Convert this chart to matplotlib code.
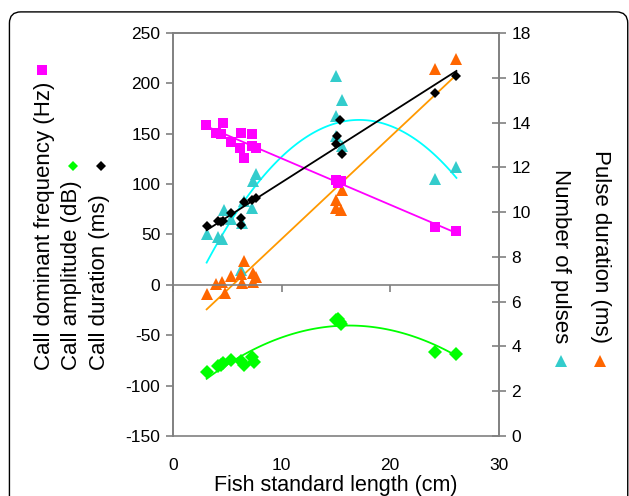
import numpy as np
import matplotlib
matplotlib.use("Agg")
import matplotlib.pyplot as plt
from matplotlib.patches import FancyBboxPatch
from matplotlib.lines import Line2D

plt.rcParams["font.family"] = ["Liberation Sans", "DejaVu Sans"]
plt.rcParams["axes.unicode_minus"] = False

# call dominant frequency (Hz), left axis
freq_x = [3.0, 4.0, 4.4, 4.6, 5.3, 6.2, 6.3, 6.5, 7.3, 7.3, 7.6, 15.0, 15.2, 15.5, 24.1, 26.1]
freq_y = [159, 150.5, 150, 160.5, 142, 136, 150.5, 126, 149.5, 138, 135.5, 104, 101, 103, 57, 53]

# call duration (ms), left axis
dur_x = [3.1, 4.1, 4.4, 4.6, 5.3, 6.3, 6.3, 6.5, 7.3, 7.6, 15.0, 15.1, 15.4, 15.6, 24.1, 26.1]
dur_y = [58, 63, 62, 63, 71, 66, 59.5, 82, 84.5, 86, 140, 148, 164, 130, 190, 207]

# call amplitude (dB), left axis
amp_x = [3.1, 4.1, 4.4, 4.6, 5.3, 6.3, 6.5, 7.3, 7.5, 15.0, 15.2, 15.4, 15.5, 24.1, 26.1]
amp_y = [-86, -81, -79.5, -77.5, -74.5, -76, -79.5, -72, -77, -34.5, -34, -36.5, -38.5, -67, -68.5]

# number of pulses, right axis
npul_x = [3.1, 4.1, 4.5, 4.7, 5.3, 6.3, 6.4, 6.5, 7.3, 7.4, 7.6, 15.0, 15.0, 15.0, 15.6, 15.6, 24.1, 26.1]
npul_y = [9.0, 8.9, 8.8, 10.1, 9.7, 7.4, 9.5, 10.5, 10.2, 11.4, 11.7, 16.1, 14.3, 13.4, 15.0, 12.95, 11.5, 12.0]

# pulse duration (ms), right axis
pdur_x = [3.1, 4.0, 4.5, 4.8, 5.3, 6.3, 6.4, 6.5, 7.4, 7.4, 7.6, 15.0, 15.0, 15.5, 15.6, 24.1, 26.1]
pdur_y = [6.33, 6.78, 6.89, 6.4, 7.15, 7.24, 6.82, 7.8, 7.27, 6.89, 7.11, 10.54, 10.17, 10.09, 10.99, 16.38, 16.82]

XTICKS = [0, 10, 20, 30]
YTICKS_L = np.arange(-150, 251, 50)
YTICKS_R = np.arange(0, 19, 2)

GRAY = "#808080"
MAG = "#FF00FF"
GRN = "#00FF00"
CYAN_M = "#33CCCC"
CYAN_L = "#00FFFF"
ORG_M = "#FF6600"
ORG_L = "#FF9900"
LBL = 16

fig = plt.figure(figsize=(6.29, 4.96), dpi=100)
ax = fig.add_axes([0.275, 0.121, 0.518, 0.8125])
ax2 = ax.twinx()

# rounded frame around the figure
frame = FancyBboxPatch((0.015, -0.1), 0.983, 1.076,
                       boxstyle="round,pad=0,rounding_size=0.018",
                       mutation_aspect=629 / 496,
                       transform=fig.transFigure, fill=False, edgecolor="black",
                       linewidth=1.0, clip_on=False)
fig.patches.append(frame)


def trend(ax_, xs, ys, deg, color):
    c = np.polyfit(xs, ys, deg)
    xx = np.linspace(min(xs), max(xs), 100)
    ax_.plot(xx, np.polyval(c, xx), color=color, lw=1.3, zorder=2)


trend(ax, freq_x, freq_y, 1, MAG)
trend(ax, dur_x, dur_y, 1, "black")
trend(ax, amp_x, amp_y, 2, GRN)
trend(ax2, npul_x, npul_y, 2, CYAN_L)
trend(ax2, pdur_x, pdur_y, 1, ORG_L)

ax2.plot(npul_x, npul_y, "^", color=CYAN_M, ms=8, mew=0, zorder=3)
ax2.plot(pdur_x, pdur_y, "^", color=ORG_M, ms=8, mew=0, zorder=3)
ax.plot(freq_x, freq_y, "s", color=MAG, ms=7, mew=0, zorder=3)
ax.plot(dur_x, dur_y, "D", color="black", ms=5.5, mew=0, zorder=3)
ax.plot(amp_x, amp_y, "D", color=GRN, ms=7, mew=0, zorder=3)

ax.set_zorder(ax2.get_zorder() + 1)
ax.patch.set_visible(False)

ax.set_xlim(0, 30)
ax.set_ylim(-150, 250)
ax2.set_ylim(0, 18)
ax.set_yticks(YTICKS_L)
ax2.set_yticks(YTICKS_R)
ax.set_xticks(XTICKS)

for a in (ax, ax2):
    for s in a.spines.values():
        s.set_color(GRAY)
        s.set_linewidth(1.2)

# x axis line sits at zero, labels stay at the bottom
ax.spines["bottom"].set_position(("data", 0))
ax.tick_params(axis="x", direction="out", length=5, color=GRAY, width=1.2, labelbottom=False)
ax2.spines["bottom"].set_visible(False)
sec = ax.secondary_xaxis("bottom")
sec.set_xticks(XTICKS)
sec.spines["bottom"].set_color(GRAY)
sec.spines["bottom"].set_linewidth(1.2)
sec.tick_params(axis="x", length=0, labelsize=12.5, pad=16)
sec.set_xlabel("Fish standard length (cm)", fontsize=15.5, labelpad=1)

ax.tick_params(axis="y", direction="out", length=5, color=GRAY, width=1.2, labelsize=12.5, pad=4)
ax2.tick_params(axis="y", direction="inout", length=10, color=GRAY, width=1.2, labelsize=12.5, pad=4)

# left labels with their marker keys
fig.text(45 / 629, 1 - 370 / 496, "Call dominant frequency (Hz)", rotation=90,
         ha="center", va="bottom", fontsize=LBL)
fig.text(72 / 629, 1 - 370 / 496, "Call amplitude (dB)", rotation=90,
         ha="center", va="bottom", fontsize=LBL)
fig.text(100 / 629, 1 - 370 / 496, "Call duration (ms)", rotation=90,
         ha="center", va="bottom", fontsize=LBL)
fig.text(561 / 629, 1 - 343 / 496, "Number of pulses", rotation=270,
         ha="center", va="bottom", fontsize=LBL)
fig.text(600 / 629, 1 - 343 / 496, "Pulse duration (ms)", rotation=270,
         ha="center", va="bottom", fontsize=LBL)

keys = [(42, 70, "s", MAG, 7), (73, 166, "D", GRN, 5.5), (101, 166, "D", "black", 5.5),
        (561, 361, "^", CYAN_M, 8), (600, 361, "^", ORG_M, 8)]
for kx, ky, mk, col, ms in keys:
    fig.add_artist(Line2D([kx / 629], [1 - ky / 496], marker=mk, color=col, ms=ms, mew=0,
                          linestyle="none", transform=fig.transFigure))

fig.savefig("out.png", dpi=100)
